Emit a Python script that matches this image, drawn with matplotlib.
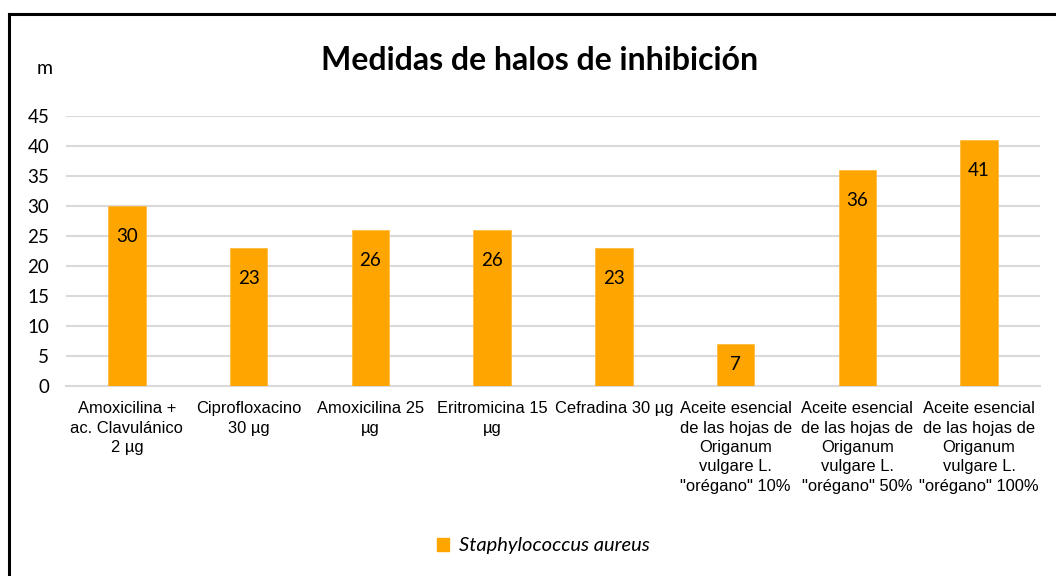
import matplotlib
matplotlib.use("Agg")
import matplotlib.pyplot as plt
from matplotlib.lines import Line2D
from matplotlib.patches import Patch

categories = [
    "Amoxicilina +\nac. Clavulánico\n2 µg",
    "Ciprofloxacino\n30 µg",
    "Amoxicilina 25\nµg",
    "Eritromicina 15\nµg",
    "Cefradina 30 µg",
    "Aceite esencial\nde las hojas de\nOriganum\nvulgare L.\n\"orégano\" 10%",
    "Aceite esencial\nde las hojas de\nOriganum\nvulgare L.\n\"orégano\" 50%",
    "Aceite esencial\nde las hojas de\nOriganum\nvulgare L.\n\"orégano\" 100%",
]
values = [30, 23, 26, 26, 23, 7, 36, 41]
yticks = [0, 5, 10, 15, 20, 25, 30, 35, 40, 45]
series_name = "Staphylococcus aureus"
title = "Medidas de halos de inhibición"

W, H = 1056, 576
fig = plt.figure(figsize=(W / 100, H / 100), dpi=100)
ax = fig.add_axes([66 / W, 1 - 386 / H, (1040 - 66) / W, (386 - 116) / H])

color = "#FFA500"
x = list(range(len(values)))
bars = ax.bar(x, values, width=0.31, color=color, edgecolor="#FFB833", linewidth=0.5, zorder=3)
ax.set_xlim(-0.5, len(values) - 0.5)
ax.set_ylim(0, 45)
ax.set_yticks(yticks)
ax.set_yticklabels([str(t) for t in yticks], fontfamily="Lato", fontsize=13.5)
ax.set_xticks(x)
ax.set_xticklabels(categories, fontfamily="Liberation Sans", fontsize=11.9, linespacing=1.36, va="top")
ax.tick_params(axis="both", length=0)
ax.tick_params(axis="x", pad=11)
ax.tick_params(axis="y", pad=12)
ax.grid(axis="y", color="#D9D9D9", linewidth=1.5, zorder=0)
for s in ["top", "right", "left"]:
    ax.spines[s].set_visible(False)
ax.spines["bottom"].set_color("#D9D9D9")
ax.spines["bottom"].set_linewidth(1.5)

px_per_unit = (386 - 116) / 45
for xi, v in zip(x, values):
    hpx = v * px_per_unit
    off = 30 if hpx > 60 else hpx / 2
    ax.annotate(str(v), (xi, v), xytext=(0, -off * 72 / 100), textcoords="offset points",
                ha="center", va="center", fontfamily="Lato", fontsize=13.5, zorder=4)

fig.text(540 / W, 1 - 60 / H, title, ha="center", va="center", fontfamily="Lato",
         fontweight="bold", fontsize=23)
fig.text(45 / W, 1 - 68 / H, "m", ha="center", va="center", fontfamily="Lato", fontsize=14)

leg = fig.legend(handles=[Patch(color=color, label=series_name)], loc="center",
                 bbox_to_anchor=(543 / W, 1 - 546 / H), frameon=False,
                 prop={"family": "Lato", "style": "italic", "size": 14.5},
                 handlelength=0.6, handleheight=0.6, handletextpad=0.5)

# chart border (left and top visible)
fig.add_artist(Line2D([8.5 / W, 8.5 / W], [0, 1 - 14 / H], color="black", lw=2.2, transform=fig.transFigure))
fig.add_artist(Line2D([8.5 / W, 1], [1 - 14 / H, 1 - 14 / H], color="black", lw=2.2, transform=fig.transFigure))

fig.savefig("out.png", dpi=100)
